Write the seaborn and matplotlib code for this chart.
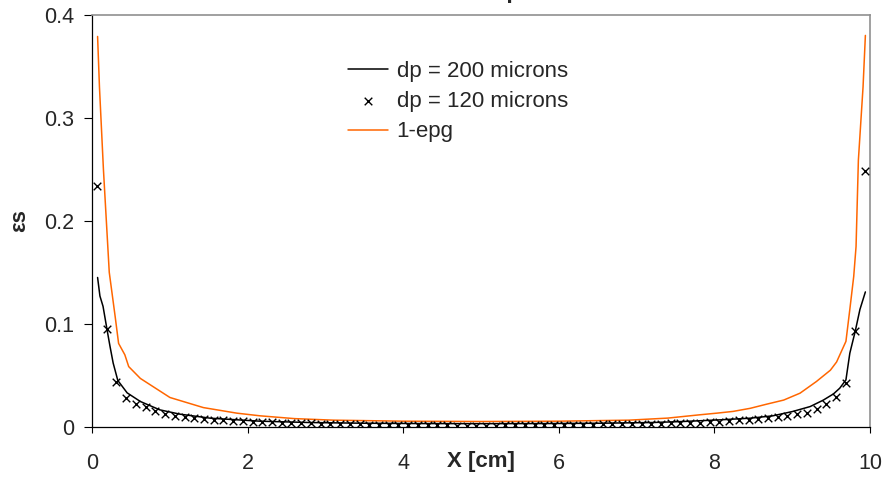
import numpy as np
import pandas as pd
import seaborn as sns
import matplotlib.pyplot as plt

# cell centres of the 80-cell grid across the bed (cm)
x_cells = np.arange(0.0625, 10.0, 0.125)

# dp = 120 microns (markers), one value per cell
eps_120 = [0.234, 0.095, 0.044, 0.028, 0.022, 0.019, 0.0155, 0.0126, 0.0105, 0.0094,
           0.0084, 0.0075, 0.0068, 0.0062, 0.0058, 0.0055, 0.0050, 0.0047, 0.0044, 0.0041,
           0.0038, 0.0035, 0.0033, 0.0031, 0.0029, 0.0027, 0.0025, 0.0023, 0.0021, 0.0019,
           0.0018, 0.0017, 0.0016, 0.0015, 0.0015, 0.0014, 0.0014, 0.0013, 0.0013, 0.0013,
           0.0013, 0.0013, 0.0014, 0.0014, 0.0015, 0.0016, 0.0017, 0.0018, 0.0019, 0.0020,
           0.0021, 0.0022, 0.0023, 0.0024, 0.0025, 0.0027, 0.0028, 0.0030, 0.0032, 0.0034,
           0.0036, 0.0039, 0.0042, 0.0045, 0.0050, 0.0055, 0.0062, 0.0068, 0.0074, 0.0084,
           0.0094, 0.0107, 0.0123, 0.0139, 0.0178, 0.022, 0.0285, 0.043, 0.093, 0.248]

# dp = 200 microns (black line)
x_200 = [0.07, 0.10, 0.14, 0.19, 0.23, 0.27, 0.33, 0.45, 0.62, 0.87, 1.13, 1.52, 2.16, 2.8,
         3.5, 4.2, 5.0, 5.8, 6.5, 7.2, 7.6, 8.07, 8.46, 8.75, 9.01, 9.23, 9.40, 9.53, 9.61,
         9.69, 9.74, 9.81, 9.87, 9.94]
eps_200 = [0.145, 0.127, 0.117, 0.095, 0.078, 0.062, 0.045, 0.033, 0.0246, 0.0165, 0.0123,
           0.0084, 0.0055, 0.0042, 0.0035, 0.0032, 0.0031, 0.0032, 0.0035, 0.0042, 0.0052,
           0.0068, 0.0084, 0.0107, 0.015, 0.0197, 0.026, 0.032, 0.0375, 0.0456, 0.0715,
           0.093, 0.114, 0.131]

# 1 - epg (orange line)
x_epg = [0.07, 0.094, 0.145, 0.22, 0.296, 0.34, 0.42, 0.47, 0.62, 1.0, 1.43, 1.86, 2.16,
         2.6, 3.1, 4.0, 5.0, 6.0, 6.9, 7.4, 7.81, 8.03, 8.24, 8.46, 8.67, 8.89, 9.10, 9.31,
         9.49, 9.57, 9.69, 9.74, 9.79, 9.82, 9.85, 9.91, 9.94]
eps_epg = [0.379, 0.330, 0.25, 0.15, 0.107, 0.081, 0.070, 0.0585, 0.047, 0.0285, 0.0187,
           0.0133, 0.0107, 0.008, 0.0065, 0.0055, 0.0052, 0.0055, 0.0065, 0.0085, 0.0117,
           0.0133, 0.015, 0.018, 0.022, 0.026, 0.0327, 0.044, 0.055, 0.063, 0.083, 0.114,
           0.146, 0.175, 0.259, 0.33, 0.38]

labels = ['dp = 200 microns', 'dp = 120 microns', '1-epg']
x_ticks = [0, 2, 4, 6, 8, 10]
y_ticks = [0, 0.1, 0.2, 0.3, 0.4]

sns.set_style('white')
plt.rcParams['font.family'] = ['Liberation Sans', 'DejaVu Sans']

fig = plt.figure(figsize=(8.86, 4.78), dpi=100)
ax = fig.add_axes([0.104, 0.107, 0.878, 0.862])

df_120 = pd.DataFrame({'x': x_cells, 'eps': eps_120})
df_200 = pd.DataFrame({'x': x_200, 'eps': eps_200})
df_epg = pd.DataFrame({'x': x_epg, 'eps': eps_epg})

sns.lineplot(data=df_200, x='x', y='eps', sort=False, estimator=None, color='black',
             linewidth=1.1, ax=ax, label=labels[0])
sns.scatterplot(data=df_120, x='x', y='eps', marker='x', color='black', s=30,
                linewidth=1.0, ax=ax, label=labels[1], zorder=3)
sns.lineplot(data=df_epg, x='x', y='eps', sort=False, estimator=None, color='#ff6600',
             linewidth=1.1, ax=ax, label=labels[2])

ax.set_xlim(0, 10)
ax.set_ylim(0, 0.4)
ax.set_xticks(x_ticks)
ax.set_yticks(y_ticks)
ax.set_xticklabels([str(t) for t in x_ticks])
ax.set_yticklabels(['0', '0.1', '0.2', '0.3', '0.4'])
ax.tick_params(axis='x', direction='out', length=4.5, width=0.8, pad=14,
               labelsize=15.5, bottom=True, color='black')
ax.tick_params(axis='y', direction='out', length=6, width=0.8, pad=7,
               labelsize=15.5, left=True, color='black')

for side in ['left', 'bottom']:
    ax.spines[side].set_color('black')
    ax.spines[side].set_linewidth(0.9)
for side in ['top', 'right']:
    ax.spines[side].set_color('#909090')
    ax.spines[side].set_linewidth(1.2)

ax.set_xlabel('X [cm]', fontsize=16, fontweight='bold')
ax.xaxis.set_label_coords(0.5, -0.083)
ax.xaxis.label.set_va('center')
ax.set_ylabel('εs', fontsize=16, fontweight='bold', labelpad=10)

ax.legend(loc='upper left', bbox_to_anchor=(0.317, 0.91), frameon=False, fontsize=16,
          handlelength=1.8, handletextpad=0.4, labelspacing=0.42, borderaxespad=0)

fig.text(0.491, 1.004, 'Radial solid fraction profiles', ha='center', va='baseline',
         fontsize=16.5, fontweight='bold')

fig.savefig('out.png', dpi=100)
